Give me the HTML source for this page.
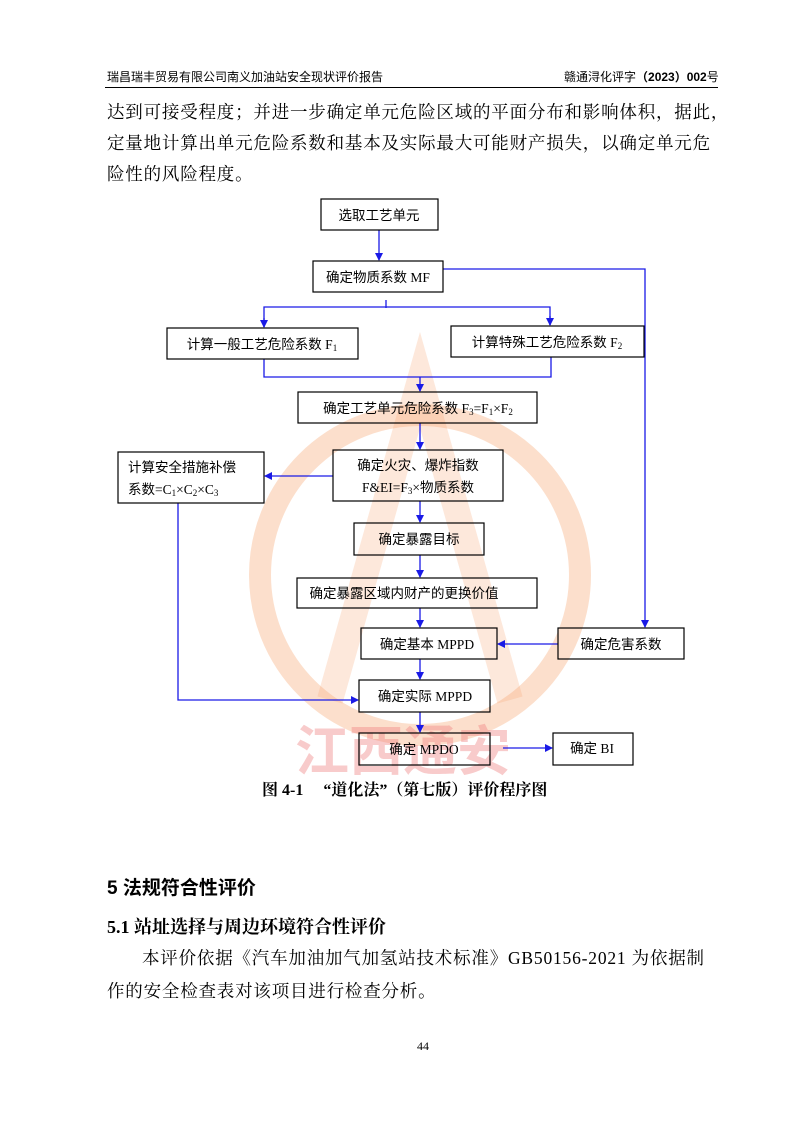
<!DOCTYPE html>
<html><head><meta charset="utf-8">
<style>
body{margin:0;background:#fff;}
#pg{position:relative;width:793px;height:1122px;overflow:hidden;background:#fff;font-family:"Liberation Serif","Noto Serif CJK SC","Noto Sans CJK SC",serif;color:#000;}
.a{position:absolute;white-space:nowrap;}
.hd{font-family:"Liberation Sans","Noto Sans CJK SC",sans-serif;font-size:12px;top:68px;}
.p{font-size:17.5px;left:107px;letter-spacing:0.8px;}
</style></head><body><div id="pg">
<div class="a hd" style="left:107px;">瑞昌瑞丰贸易有限公司南义加油站安全现状评价报告</div>
<div class="a hd" style="left:564px;">赣通浔化评字<b>（2023）002</b>号</div>
<div class="a" style="left:105px;top:87px;width:613px;height:1px;background:#000;"></div>
<div class="a p" style="top:99px;">达到可接受程度；并进一步确定单元危险区域的平面分布和影响体积，据此，</div>
<div class="a p" style="top:130px;">定量地计算出单元危险系数和基本及实际最大可能财产损失，以确定单元危</div>
<div class="a p" style="top:161px;">险性的风险程度。</div>

<svg class="a" style="left:0;top:0" width="793" height="1122" xmlns="http://www.w3.org/2000/svg">
<defs><marker id="ar" markerWidth="8" markerHeight="8" refX="7" refY="4" orient="auto" markerUnits="userSpaceOnUse"><path d="M0,0 L8,4 L0,8 z" fill="#1a1ae6"/></marker></defs>
<circle cx="420" cy="575" r="160" fill="none" stroke="#f6a46e" stroke-width="22" opacity="0.35"/>
<path d="M330 700 L420 380 L510 700" fill="none" stroke="#f6a46e" stroke-width="26" opacity="0.25"/>
<text x="295" y="770" font-size="54" fill="#f08080" opacity="0.4" font-family="Liberation Sans,Noto Sans CJK SC,sans-serif" font-weight="bold">江西通安</text>
<g fill="none" stroke="#1a1ae6" stroke-width="1.3">
<line x1="379" y1="230" x2="379" y2="260" marker-end="url(#ar)"/>
<polyline points="443,269 645,269 645,627" marker-end="url(#ar)"/>
<line x1="386" y1="300" x2="386" y2="308"/>
<polyline points="264,327 264,307 550,307 550,325" />
<line x1="264" y1="318" x2="264" y2="327" marker-end="url(#ar)"/>
<line x1="550" y1="316" x2="550" y2="325" marker-end="url(#ar)"/>
<polyline points="264,359 264,377 551,377 551,357"/>
<line x1="420" y1="377" x2="420" y2="391" marker-end="url(#ar)"/>
<line x1="420" y1="423" x2="420" y2="449" marker-end="url(#ar)"/>
<line x1="333" y1="476" x2="265" y2="476" marker-end="url(#ar)"/>
<polyline points="178,503 178,700 358,700" marker-end="url(#ar)"/>
<line x1="420" y1="501" x2="420" y2="522" marker-end="url(#ar)"/>
<line x1="420" y1="555" x2="420" y2="577" marker-end="url(#ar)"/>
<line x1="420" y1="608" x2="420" y2="627" marker-end="url(#ar)"/>
<line x1="558" y1="644" x2="498" y2="644" marker-end="url(#ar)"/>
<line x1="420" y1="659" x2="420" y2="679" marker-end="url(#ar)"/>
<line x1="420" y1="712" x2="420" y2="732" marker-end="url(#ar)"/>
<line x1="503" y1="748" x2="552" y2="748" marker-end="url(#ar)"/>
</g>
<g fill="none" stroke="#000" stroke-width="1.2">
<rect x="321" y="199" width="117" height="31"/>
<rect x="313" y="261" width="130" height="31"/>
<rect x="167" y="328" width="191" height="31"/>
<rect x="451" y="326" width="193" height="31"/>
<rect x="298" y="392" width="239" height="31"/>
<rect x="333" y="450" width="170" height="51"/>
<rect x="118" y="452" width="146" height="51"/>
<rect x="354" y="523" width="130" height="32"/>
<rect x="297" y="578" width="240" height="30"/>
<rect x="361" y="628" width="136" height="31"/>
<rect x="558" y="628" width="126" height="31"/>
<rect x="359" y="680" width="131" height="32"/>
<rect x="359" y="733" width="131" height="32"/>
<rect x="553" y="733" width="80" height="32"/>
</g>
<g font-family="Liberation Serif,Noto Sans CJK SC,serif" font-size="13.5" fill="#000" text-anchor="middle">
<text x="379" y="220">选取工艺单元</text>
<text x="378" y="282">确定物质系数 MF</text>
<text x="262" y="349">计算一般工艺危险系数 F<tspan font-size="9" dy="2">1</tspan></text>
<text x="547" y="347">计算特殊工艺危险系数 F<tspan font-size="9" dy="2">2</tspan></text>
<text x="418" y="413">确定工艺单元危险系数 F<tspan font-size="9" dy="2">3</tspan><tspan dy="-2">=F</tspan><tspan font-size="9" dy="2">1</tspan><tspan dy="-2">×F</tspan><tspan font-size="9" dy="2">2</tspan></text>
<text x="418" y="470">确定火灾、爆炸指数</text>
<text x="418" y="492">F&amp;EI=F<tspan font-size="9" dy="2">3</tspan><tspan dy="-2">×物质系数</tspan></text>
<text x="128" y="472" text-anchor="start">计算安全措施补偿</text>
<text x="128" y="494" text-anchor="start">系数=C<tspan font-size="9" dy="2">1</tspan><tspan dy="-2">×C</tspan><tspan font-size="9" dy="2">2</tspan><tspan dy="-2">×C</tspan><tspan font-size="9" dy="2">3</tspan></text>
<text x="419" y="544">确定暴露目标</text>
<text x="404" y="598">确定暴露区域内财产的更换价值</text>
<text x="427" y="649">确定基本 MPPD</text>
<text x="621" y="649">确定危害系数</text>
<text x="425" y="701">确定实际 MPPD</text>
<text x="424" y="754">确定 MPDO</text>
<text x="592" y="753">确定 BI</text>
</g>
<text x="262" y="795" font-size="16" font-weight="bold" font-family="Liberation Serif,Noto Serif CJK SC,serif">图 4-1　 “道化法”（第七版）评价程序图</text>
</svg>

<div class="a" style="left:107px;top:873px;font-size:19px;font-weight:bold;font-family:'Liberation Sans','Noto Sans CJK SC',sans-serif;">5 法规符合性评价</div>
<div class="a" style="left:107px;top:913px;font-size:18px;font-weight:bold;font-family:'Liberation Serif','Noto Serif CJK SC',serif;">5.1 站址选择与周边环境符合性评价</div>
<div class="a p" style="top:945px;left:142px;">本评价依据《汽车加油加气加氢站技术标准》GB50156-2021 为依据制</div>
<div class="a p" style="top:978px;">作的安全检查表对该项目进行检查分析。</div>
<div class="a" style="left:417px;top:1039px;font-size:12px;">44</div>
</div></body></html>
